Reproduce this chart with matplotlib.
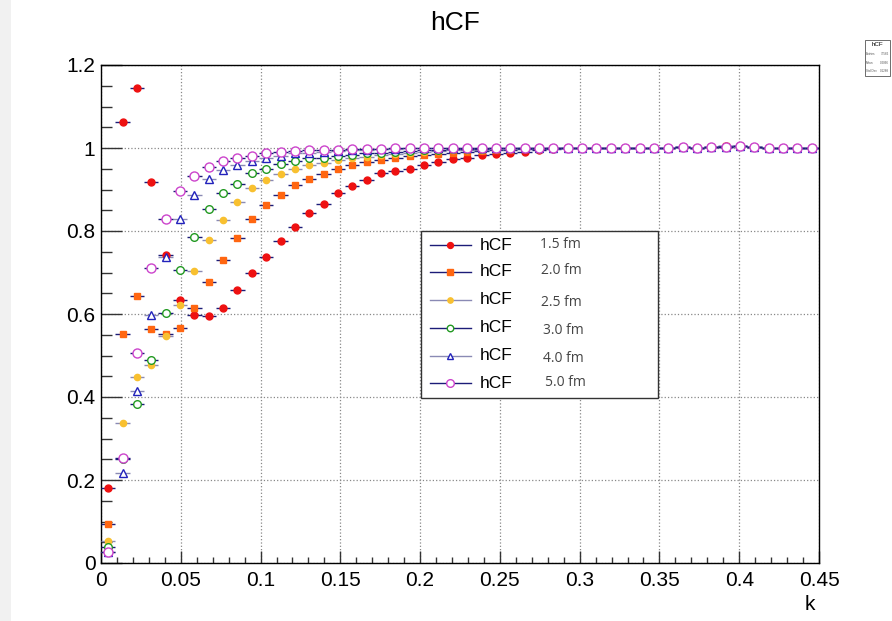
import numpy as np
import matplotlib.pyplot as plt
from matplotlib.patches import Rectangle
from matplotlib.lines import Line2D

plt.rcParams['font.family'] = ['Liberation Sans Narrow', 'Liberation Sans', 'DejaVu Sans']

# 50 bins from 0 to 0.45
edges = np.linspace(0.0, 0.45, 51)
k = 0.5 * (edges[:-1] + edges[1:])
half_width = 0.5 * (edges[1] - edges[0])

cf_15 = [0.181, 1.063, 1.145, 0.918, 0.741, 0.634, 0.597, 0.596, 0.614, 0.657,
         0.699, 0.738, 0.775, 0.810, 0.843, 0.864, 0.891, 0.908, 0.922, 0.939,
         0.944, 0.950, 0.960, 0.966, 0.973, 0.976, 0.982, 0.986, 0.988, 0.991,
         0.995, 0.998, 0.999, 1.000, 1.000, 1.001, 0.999, 1.000, 1.001, 1.000,
         1.002, 1.001, 1.003, 1.004, 1.005, 1.002, 1.001, 1.001, 1.000, 1.001]
cf_20 = [0.093, 0.553, 0.643, 0.563, 0.553, 0.567, 0.614, 0.677, 0.729, 0.783,
         0.830, 0.862, 0.887, 0.910, 0.925, 0.938, 0.949, 0.959, 0.967, 0.971,
         0.976, 0.980, 0.984, 0.986, 0.988, 0.990, 0.992, 0.994, 0.996, 0.997,
         0.998, 0.999, 1.000, 1.000, 1.001, 1.000, 1.000, 1.001, 1.000, 1.001,
         1.002, 1.001, 1.002, 1.004, 1.005, 1.002, 1.001, 1.000, 1.001, 1.001]
cf_25 = [0.053, 0.337, 0.447, 0.477, 0.546, 0.622, 0.704, 0.779, 0.827, 0.869,
         0.904, 0.922, 0.938, 0.950, 0.959, 0.964, 0.971, 0.975, 0.979, 0.983,
         0.986, 0.988, 0.990, 0.992, 0.994, 0.995, 0.996, 0.997, 0.998, 0.999,
         0.999, 1.000, 1.000, 1.000, 1.001, 1.000, 1.000, 1.001, 1.000, 1.001,
         1.002, 1.001, 1.002, 1.003, 1.005, 1.002, 1.001, 1.000, 1.001, 1.001]
cf_30 = [0.039, 0.250, 0.383, 0.489, 0.602, 0.705, 0.786, 0.852, 0.892, 0.913,
         0.940, 0.950, 0.961, 0.969, 0.975, 0.977, 0.981, 0.984, 0.987, 0.989,
         0.991, 0.993, 0.995, 0.996, 0.997, 0.998, 0.998, 0.999, 0.999, 1.000,
         1.000, 1.000, 1.000, 1.000, 1.001, 1.000, 1.000, 1.001, 1.000, 1.001,
         1.002, 1.001, 1.002, 1.003, 1.004, 1.002, 1.001, 1.000, 1.001, 1.001]
cf_40 = [0.026, 0.216, 0.415, 0.598, 0.738, 0.830, 0.887, 0.925, 0.947, 0.958,
         0.968, 0.977, 0.981, 0.987, 0.989, 0.991, 0.993, 0.995, 0.996, 0.997,
         0.998, 0.999, 0.999, 1.000, 1.000, 1.000, 0.999, 1.000, 1.000, 1.000,
         1.000, 1.000, 1.000, 1.000, 1.001, 1.000, 1.000, 1.001, 1.000, 1.001,
         1.002, 1.001, 1.002, 1.003, 1.004, 1.002, 1.001, 1.000, 1.001, 1.001]
cf_50 = [0.026, 0.252, 0.506, 0.710, 0.830, 0.897, 0.933, 0.954, 0.969, 0.975,
         0.981, 0.987, 0.990, 0.992, 0.994, 0.994, 0.995, 0.997, 0.998, 0.998,
         0.999, 0.999, 1.000, 1.000, 1.000, 1.000, 0.999, 1.000, 1.000, 1.000,
         1.000, 1.000, 1.000, 1.000, 1.001, 1.000, 1.000, 1.001, 1.000, 1.001,
         1.002, 1.001, 1.002, 1.003, 1.004, 1.002, 1.001, 1.000, 1.001, 1.001]

radii = ['1.5 fm', '2.0 fm', '2.5 fm', '3.0 fm', '4.0 fm', '5.0 fm']
series = [cf_15, cf_20, cf_25, cf_30, cf_40, cf_50]

navy = '#1c1c78'
lav = '#8a8ab4'
# marker, face, edge, size, error-bar colour
styles = [
    ('o', '#ee1111', '#ee1111', 5.0, navy),
    ('s', '#ff6611', '#ff6611', 5.0, navy),
    ('o', '#f8c030', '#f8c030', 4.5, lav),
    ('o', 'white', '#229922', 5.5, navy),
    ('^', 'white', '#2222bb', 5.5, lav),
    ('o', 'white', '#cc44cc', 6.5, navy),
]

fig = plt.figure(figsize=(8.92, 6.21), dpi=100)
fig.patches.append(Rectangle((0, 0), 11 / 892, 1, transform=fig.transFigure,
                             facecolor='#f1f1f1', edgecolor='none', zorder=-5))
ax = fig.add_axes([101 / 892, 58 / 621, 718 / 892, 498 / 621])

for vals, (m, fc, ec, ms, lc) in zip(series, styles):
    ax.errorbar(k, vals, xerr=half_width, fmt=m, mfc=fc, mec=ec, ms=ms,
                mew=1.0, ecolor=lc, elinewidth=1.0, capsize=0, zorder=3)

ax.set_xlim(0, 0.45)
ax.set_ylim(0, 1.2)
ax.set_xticks(np.arange(0, 0.451, 0.05))
ax.set_xticklabels(['0', '0.05', '0.1', '0.15', '0.2', '0.25', '0.3', '0.35', '0.4', '0.45'])
ax.set_yticks(np.arange(0, 1.21, 0.2))
ax.set_yticklabels(['0', '0.2', '0.4', '0.6', '0.8', '1', '1.2'])
ax.set_xticks(np.arange(0, 0.451, 0.01), minor=True)
ax.set_yticks(np.arange(0, 1.21, 0.05), minor=True)
ax.tick_params(axis='both', which='both', direction='in', top=False, right=False,
               labelsize=15, width=1.0, color='#333333')
ax.tick_params(axis='x', which='major', length=9, pad=6)
ax.tick_params(axis='x', which='minor', length=4.5)
ax.tick_params(axis='y', which='major', length=15, pad=4)
ax.tick_params(axis='y', which='minor', length=8)
ax.grid(True, which='major', linestyle=':', color='#888888', linewidth=0.9)
for s in ax.spines.values():
    s.set_linewidth(1.0)

ax.set_xlabel('k', fontsize=15, loc='right')
ax.xaxis.set_label_coords(0.995, -0.064)

fig.text(455 / 892, 1 - 23 / 621, 'hCF', ha='center', va='center', fontsize=19)

# legend box drawn in axes fraction coordinates
def fx(px):
    return (px - 101) / 718

def fy(py):
    return (563 - py) / 498

ax.add_patch(Rectangle((fx(421), fy(398)), fx(658) - fx(421), fy(231) - fy(398),
                       transform=ax.transAxes, facecolor='white', edgecolor='#333333',
                       linewidth=1.0, zorder=5))
row_y = [245, 272, 300, 328, 356, 383]
fm_pos = [(540, 245), (541, 270), (541, 302), (543, 330), (543, 358), (545, 383)]
for (m, fc, ec, ms, lc), ry, lab, (tx, ty) in zip(styles, row_y, radii, fm_pos):
    ax.add_line(Line2D([fx(430), fx(471)], [fy(ry), fy(ry)], transform=ax.transAxes,
                       color=lc, linewidth=1.0, zorder=6))
    ax.add_line(Line2D([fx(450)], [fy(ry)], transform=ax.transAxes, marker=m,
                       mfc=fc, mec=ec, ms=ms * 0.85, mew=1.0, zorder=7))
    ax.text(fx(480), fy(ry), 'hCF', transform=ax.transAxes, fontsize=12.5,
            family=['Liberation Sans', 'DejaVu Sans'], va='center', ha='left', zorder=7)
    ax.text(fx(tx), fy(ty), lab, transform=ax.transAxes, fontsize=10, color='#444444',
            family=['Open Sans', 'DejaVu Sans'], va='center', ha='left', zorder=7)

# tiny stats box in the top right corner
fig.patches.append(Rectangle((865 / 892, 1 - 76 / 621), 25 / 892, 36 / 621,
                             transform=fig.transFigure, facecolor='white',
                             edgecolor='#555555', linewidth=0.6))
fig.text(877 / 892, 1 - 44 / 621, 'hCF', ha='center', va='center', fontsize=4.5,
         family=['Liberation Sans', 'DejaVu Sans'])
for yy, name, v in [(54, 'Entries', '77566'), (63, 'Mean', '0.2066'), (71, 'Std Dev', '0.1288')]:
    fig.text(866 / 892, 1 - yy / 621, name, ha='left', va='center', fontsize=2.2, color='#555555')
    fig.text(889 / 892, 1 - yy / 621, v, ha='right', va='center', fontsize=2.2, color='#555555')

fig.savefig('out.png', dpi=100)
